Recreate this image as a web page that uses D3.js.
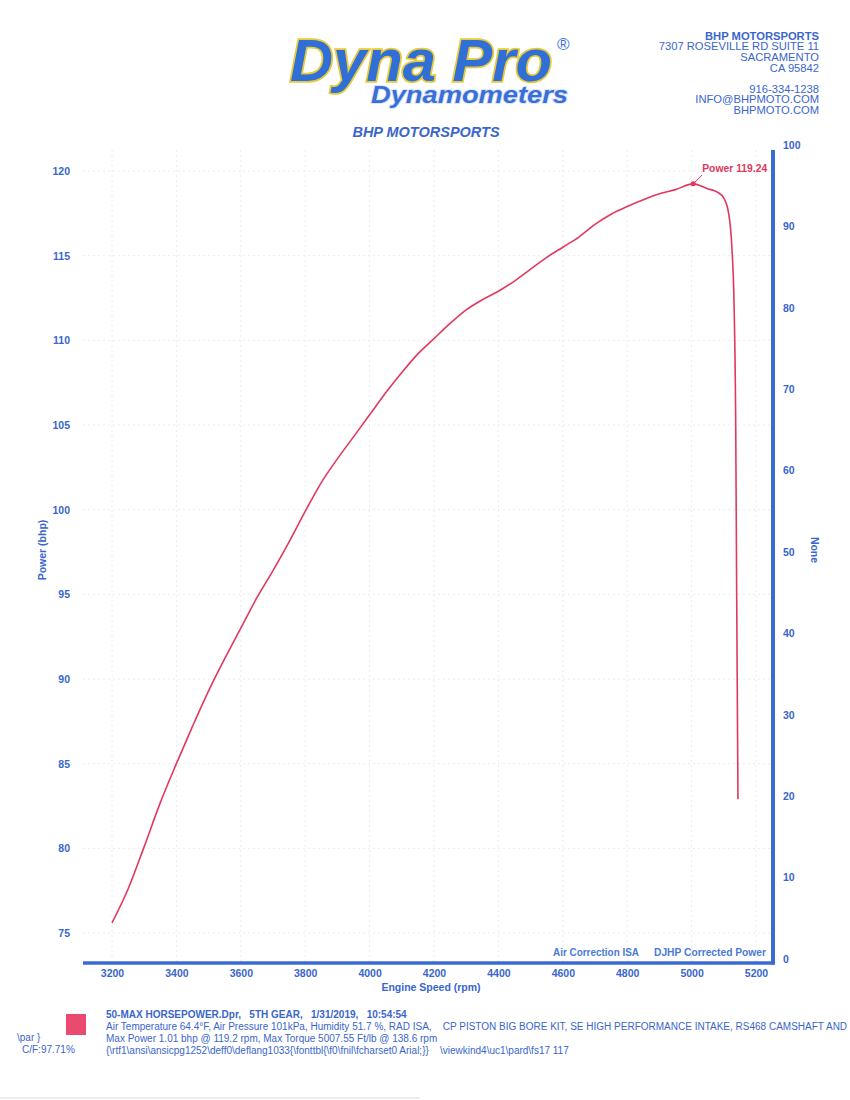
<!DOCTYPE html>
<html><head><meta charset="utf-8">
<script src="https://cdn.jsdelivr.net/npm/d3@7"></script>
<style>
html,body{margin:0;padding:0;background:#fff;}
svg{display:block;font-family:"Liberation Sans",Arial,sans-serif;}
</style></head>
<body>
<script>
// ---- data ----
const rpm = [3200, 3250, 3300, 3350, 3400, 3450, 3500, 3550, 3600, 3650, 3700, 3750, 3800, 3850, 3900, 3950, 4000, 4050, 4100, 4150, 4200, 4250, 4300, 4350, 4400, 4450, 4500, 4550, 4600, 4650, 4700, 4750, 4800, 4850, 4900, 4950, 5005, 5050, 5080, 5100, 5115, 5125, 5132, 5137, 5140, 5144];
const power = [75.6, 77.6, 80.1, 82.7, 85.0, 87.2, 89.3, 91.2, 93.0, 94.8, 96.4, 98.1, 99.9, 101.6, 103.0, 104.3, 105.6, 106.9, 108.1, 109.2, 110.1, 111.0, 111.8, 112.4, 112.9, 113.5, 114.2, 114.9, 115.5, 116.1, 116.85, 117.45, 117.9, 118.3, 118.65, 118.9, 119.24, 118.95, 118.75, 118.4, 117.5, 115.5, 112.0, 105.0, 95.0, 82.9];
const xTicks = [3200, 3400, 3600, 3800, 4000, 4200, 4400, 4600, 4800, 5000, 5200];
const yTicks = [75, 80, 85, 90, 95, 100, 105, 110, 115, 120];
const y2Ticks = [0, 10, 20, 30, 40, 50, 60, 70, 80, 90, 100];
const peakRpm = 5005, peakPower = 119.24;
const addressLines = ["BHP MOTORSPORTS", "7307 ROSEVILLE RD SUITE 11", "SACRAMENTO", "CA 95842"];
const contactLines = ["916-334-1238", "INFO@BHPMOTO.COM", "BHPMOTO.COM"];
const legendLabels = ["Air Correction ISA", "DJHP Corrected Power"];
const footerLines = [
  "50-MAX HORSEPOWER.Dpr,   5TH GEAR,   1/31/2019,   10:54:54",
  "Air Temperature 64.4°F, Air Pressure 101kPa, Humidity 51.7 %, RAD ISA,    CP PISTON BIG BORE KIT, SE HIGH PERFORMANCE INTAKE, RS468 CAMSHAFT AND I",
  "Max Power 1.01 bhp @ 119.2 rpm, Max Torque 5007.55 Ft/lb @ 138.6 rpm",
  "{\\rtf1\\ansi\\ansicpg1252\\deff0\\deflang1033{\\fonttbl{\\f0\\fnil\\fcharset0 Arial;}}    \\viewkind4\\uc1\\pard\\fs17 117"
];

const W = 850, H = 1100;
const blue = "#3a66cc", barBlue = "#3b6ad6", red = "#e2385e";
const svg = d3.select("body").append("svg").attr("width", W).attr("height", H);

const plotL = 83, plotR = 773, plotT = 150, plotB = 963;
const x = d3.scaleLinear().domain([3200, 5200]).range([112, 756]);
const y = d3.scaleLinear().domain([75, 120]).range([933, 171]);
const y2 = d3.scaleLinear().domain([0, 100]).range([959, 145]);

// ---- header logo ----
const logo = svg.append("g");
logo.append("text").attr("x", 290).attr("y", 81).attr("font-size", 60).attr("font-weight", "bold")
  .attr("font-style", "italic").attr("fill", "#2f6fd6").attr("stroke", "#e8c93a").attr("stroke-width", 3.5)
  .attr("paint-order", "stroke").attr("textLength", 262).attr("lengthAdjust", "spacingAndGlyphs").text("Dyna Pro");
logo.append("text").attr("x", 557).attr("y", 50).attr("font-size", 17).attr("fill", "#3a6fd8").text("®");
logo.append("text").attr("x", 371).attr("y", 103).attr("font-size", 24).attr("font-weight", "bold")
  .attr("font-style", "italic").attr("fill", "#3a6fd8").attr("stroke", "#dde6f5").attr("stroke-width", 2)
  .attr("paint-order", "stroke").attr("textLength", 197).attr("lengthAdjust", "spacingAndGlyphs").text("Dynamometers");

// ---- address ----
const addr = svg.append("g").attr("fill", blue).attr("font-size", 11.2).attr("text-anchor", "end");
addressLines.forEach((t, i) => addr.append("text").attr("x", 819).attr("y", 39.5 + i * 10.7)
  .attr("font-weight", i === 0 ? "bold" : "normal").text(t));
contactLines.forEach((t, i) => addr.append("text").attr("x", 819).attr("y", 92.5 + i * 10.9).text(t));

// ---- title ----
svg.append("text").attr("x", 426).attr("y", 137).attr("text-anchor", "middle").attr("font-size", 14.5)
  .attr("font-weight", "bold").attr("font-style", "italic").attr("fill", blue).text("BHP MOTORSPORTS");

// ---- grid ----
const grid = svg.append("g").attr("stroke", "#ececec").attr("stroke-width", 1).attr("stroke-dasharray", "2,3");
grid.selectAll("line.v").data(xTicks).join("line").attr("class", "v")
  .attr("x1", d => x(d)).attr("x2", d => x(d)).attr("y1", plotT).attr("y2", plotB);
grid.selectAll("line.h").data(yTicks).join("line").attr("class", "h")
  .attr("x1", plotL).attr("x2", plotR).attr("y1", d => y(d)).attr("y2", d => y(d));

// ---- axes ----
const xAxis = svg.append("g").attr("transform", `translate(0,${plotB})`)
  .call(d3.axisBottom(x).tickValues(xTicks).tickSize(0).tickPadding(7).tickFormat(d3.format("d")));
xAxis.select(".domain").remove();
const yAxis = svg.append("g").attr("transform", `translate(70,0)`)
  .call(d3.axisLeft(y).tickValues(yTicks).tickSize(0).tickPadding(0).tickFormat(d3.format("d")));
yAxis.select(".domain").remove();
const y2Axis = svg.append("g").attr("transform", `translate(783,0)`)
  .call(d3.axisRight(y2).tickValues(y2Ticks).tickSize(0).tickPadding(0).tickFormat(d3.format("d")));
y2Axis.select(".domain").remove();
svg.selectAll(".tick text").attr("fill", blue).attr("font-size", 10.5).attr("font-weight", "bold")
  .attr("font-family", "'Liberation Sans',Arial,sans-serif");

svg.append("line").attr("x1", plotL).attr("x2", plotR + 2).attr("y1", plotB).attr("y2", plotB)
  .attr("stroke", barBlue).attr("stroke-width", 3.5);
svg.append("line").attr("x1", plotR).attr("x2", plotR).attr("y1", plotT).attr("y2", plotB + 1.5)
  .attr("stroke", barBlue).attr("stroke-width", 4);

svg.append("text").attr("x", 431).attr("y", 991).attr("text-anchor", "middle").attr("font-size", 10.5)
  .attr("font-weight", "bold").attr("fill", blue).text("Engine Speed (rpm)");
svg.append("text").attr("transform", "translate(46,550) rotate(-90)").attr("text-anchor", "middle")
  .attr("font-size", 10.5).attr("font-weight", "bold").attr("fill", blue).text("Power (bhp)");
svg.append("text").attr("transform", "translate(811,550) rotate(90)").attr("text-anchor", "middle")
  .attr("font-size", 10.5).attr("font-weight", "bold").attr("fill", blue).text("None");

const legX = [553, 654], legW = [86, 112];
legendLabels.forEach((t, i) => svg.append("text").attr("x", legX[i]).attr("y", 956).attr("font-size", 11)
  .attr("font-weight", "bold").attr("fill", "#4a7ad8").attr("textLength", legW[i])
  .attr("lengthAdjust", "spacingAndGlyphs").text(t));

// ---- curve ----
const pts = rpm.map((r, i) => [r, power[i]]);
svg.append("path").datum(pts).attr("fill", "none").attr("stroke", red).attr("stroke-width", 1.6)
  .attr("d", d3.line().x(d => x(d[0])).y(d => y(d[1])).curve(d3.curveMonotoneX));

const px = x(peakRpm), py = y(peakPower);
svg.append("circle").attr("cx", px).attr("cy", py).attr("r", 2.5).attr("fill", red);
svg.append("line").attr("x1", px).attr("y1", py).attr("x2", px + 9).attr("y2", py - 9)
  .attr("stroke", red).attr("stroke-width", 1);
svg.append("text").attr("x", px + 9).attr("y", py - 12).attr("font-size", 11).attr("font-weight", "bold")
  .attr("fill", red).attr("textLength", 65).attr("lengthAdjust", "spacingAndGlyphs")
  .text("Power " + peakPower.toFixed(2));

// ---- footer ----
svg.append("rect").attr("x", 66).attr("y", 1014).attr("width", 20).attr("height", 21).attr("fill", "#ea4a6e");
const foot = svg.append("g").attr("fill", blue).attr("font-size", 10);
footerLines.forEach((t, i) => foot.append("text").attr("x", 106).attr("y", 1018 + i * 12)
  .attr("font-weight", i === 0 ? "bold" : "normal").style("white-space", "pre").text(t));
foot.append("text").attr("x", 17).attr("y", 1041).text("\\par }");
foot.append("text").attr("x", 22).attr("y", 1053).text("C/F:97.71%");
svg.append("line").attr("x1", 0).attr("x2", 420).attr("y1", 1098).attr("y2", 1098)
  .attr("stroke", "#dddddd").attr("stroke-width", 1);
</script>
</body></html>
